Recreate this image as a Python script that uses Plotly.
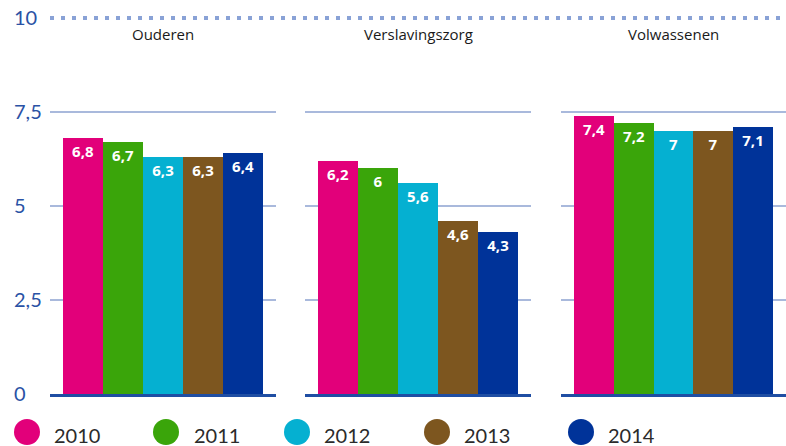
import plotly.graph_objects as go
from plotly.subplots import make_subplots

# ---- data ----
panels = ["Ouderen", "Verslavingszorg", "Volwassenen"]
years = ["2010", "2011", "2012", "2013", "2014"]
ouderen = [6.8, 6.7, 6.3, 6.3, 6.4]
verslavingszorg = [6.2, 6.0, 5.6, 4.6, 4.3]
volwassenen = [7.4, 7.2, 7.0, 7.0, 7.1]
tick_vals = [0, 2.5, 5, 7.5, 10]
tick_labels = ["0", "2,5", "5", "7,5", "10"]
colors = ["#e2007a", "#3aa50a", "#05b0d1", "#7d561f", "#003399"]

series = [ouderen, verslavingszorg, volwassenen]

# ---- layout geometry (pixels) ----
W, H = 786, 446
PX_PER_UNIT = 37.6
BASE_PX = 394          # pixel row of value 0
Y_TOP = 10.4
ML, MR, MB = 10, 0, 30
MT = round(BASE_PX - Y_TOP * PX_PER_UNIT)
PW = W - ML - MR
PH = H - MT - MB
def px_x(p):
    return (p - ML) / PW
def px_y(p):
    return (H - MB - p) / PH

Y_LOW = -(H - MB - BASE_PX) / PX_PER_UNIT   # for the label axis
panel_px = [(50, 276), (305, 531), (561, 786)]

fig = make_subplots(rows=1, cols=3)

for i, vals in enumerate(series):
    fig.add_trace(
        go.Bar(
            x=years, y=vals,
            marker=dict(color=colors, line=dict(width=0)),
            texttemplate="%{y}",
            textposition="inside",
            insidetextanchor="end",
            textangle=0,
            textfont=dict(family="Open Sans", size=15, color="white", weight="bold"),
            showlegend=False,
            hoverinfo="skip",
        ),
        row=1, col=i + 1,
    )

# invisible trace carrying the tick-label axis
fig.add_trace(go.Scatter(x=[None], y=[None], xaxis="x", yaxis="y4",
                         showlegend=False, hoverinfo="skip"))

layout_axes = {}
for i, (a, b) in enumerate(panel_px):
    n = "" if i == 0 else str(i + 1)
    layout_axes["xaxis" + n] = dict(
        domain=[px_x(a), px_x(b)], type="category",
        range=[-0.825, 4.825], showticklabels=False, showgrid=False,
        ticks="", showline=True, linecolor="#1f4ea3", linewidth=3,
        zeroline=False, fixedrange=True, anchor="y" + n,
    )
    layout_axes["yaxis" + n] = dict(
        domain=[px_y(BASE_PX), 1],
        range=[0, Y_TOP], tickvals=tick_vals[:-1], showticklabels=False,
        showgrid=True, gridcolor="#a9b9dc", gridwidth=2, zeroline=False,
        showline=False, ticks="", fixedrange=True,
        anchor="x" + n,
    )
layout_axes["yaxis4"] = dict(
    anchor="free", position=0, side="left", domain=[0, 1],
    range=[Y_LOW, Y_TOP], tickvals=tick_vals, ticktext=tick_labels,
    ticklabelposition="inside", showgrid=False, zeroline=False,
    showline=False, ticks="",
    tickfont=dict(family="Lato", size=20, color="#2a52a5"),
    fixedrange=True,
)
fig.update_layout(**layout_axes)

shapes = [
    dict(type="line", xref="paper", yref="y",
         x0=px_x(panel_px[0][0]), x1=1, y0=tick_vals[-1], y1=tick_vals[-1],
         line=dict(color="#89a2d6", width=4, dash="4px,7px")),
]
annotations = []
for name, (a, b) in zip(panels, panel_px):
    annotations.append(dict(
        text=name, xref="paper", yref="paper",
        x=px_x((a + b) / 2), y=px_y(34), xanchor="center", yanchor="middle",
        showarrow=False, font=dict(family="Open Sans", size=15, color="#1a1a1a"),
    ))

# legend (circles + labels)
circle_px = [27, 166, 297, 437, 581]
text_px = [52, 192, 322, 462, 606]
for yr, col, cx, tx in zip(years, colors, circle_px, text_px):
    shapes.append(dict(
        type="circle", xref="paper", yref="paper",
        xsizemode="pixel", ysizemode="pixel",
        xanchor=px_x(cx), yanchor=px_y(432),
        x0=-13, x1=13, y0=-13, y1=13,
        fillcolor=col, line=dict(width=0),
    ))
    annotations.append(dict(
        text=yr, xref="paper", yref="paper",
        x=px_x(tx), y=px_y(435), xanchor="left", yanchor="middle",
        showarrow=False, font=dict(family="Lato", size=20, color="#2b2b2b"),
    ))

fig.update_layout(
    width=W, height=H,
    margin=dict(l=ML, r=MR, t=MT, b=MB),
    paper_bgcolor="white", plot_bgcolor="rgba(0,0,0,0)",
    bargap=0, separators=",.",
    shapes=shapes, annotations=annotations,
    showlegend=False,
)

fig.write_html(
    "out.html",
    config={"displayModeBar": False},
    post_script="document.body.style.margin='0';document.body.style.overflow='hidden';",
)
